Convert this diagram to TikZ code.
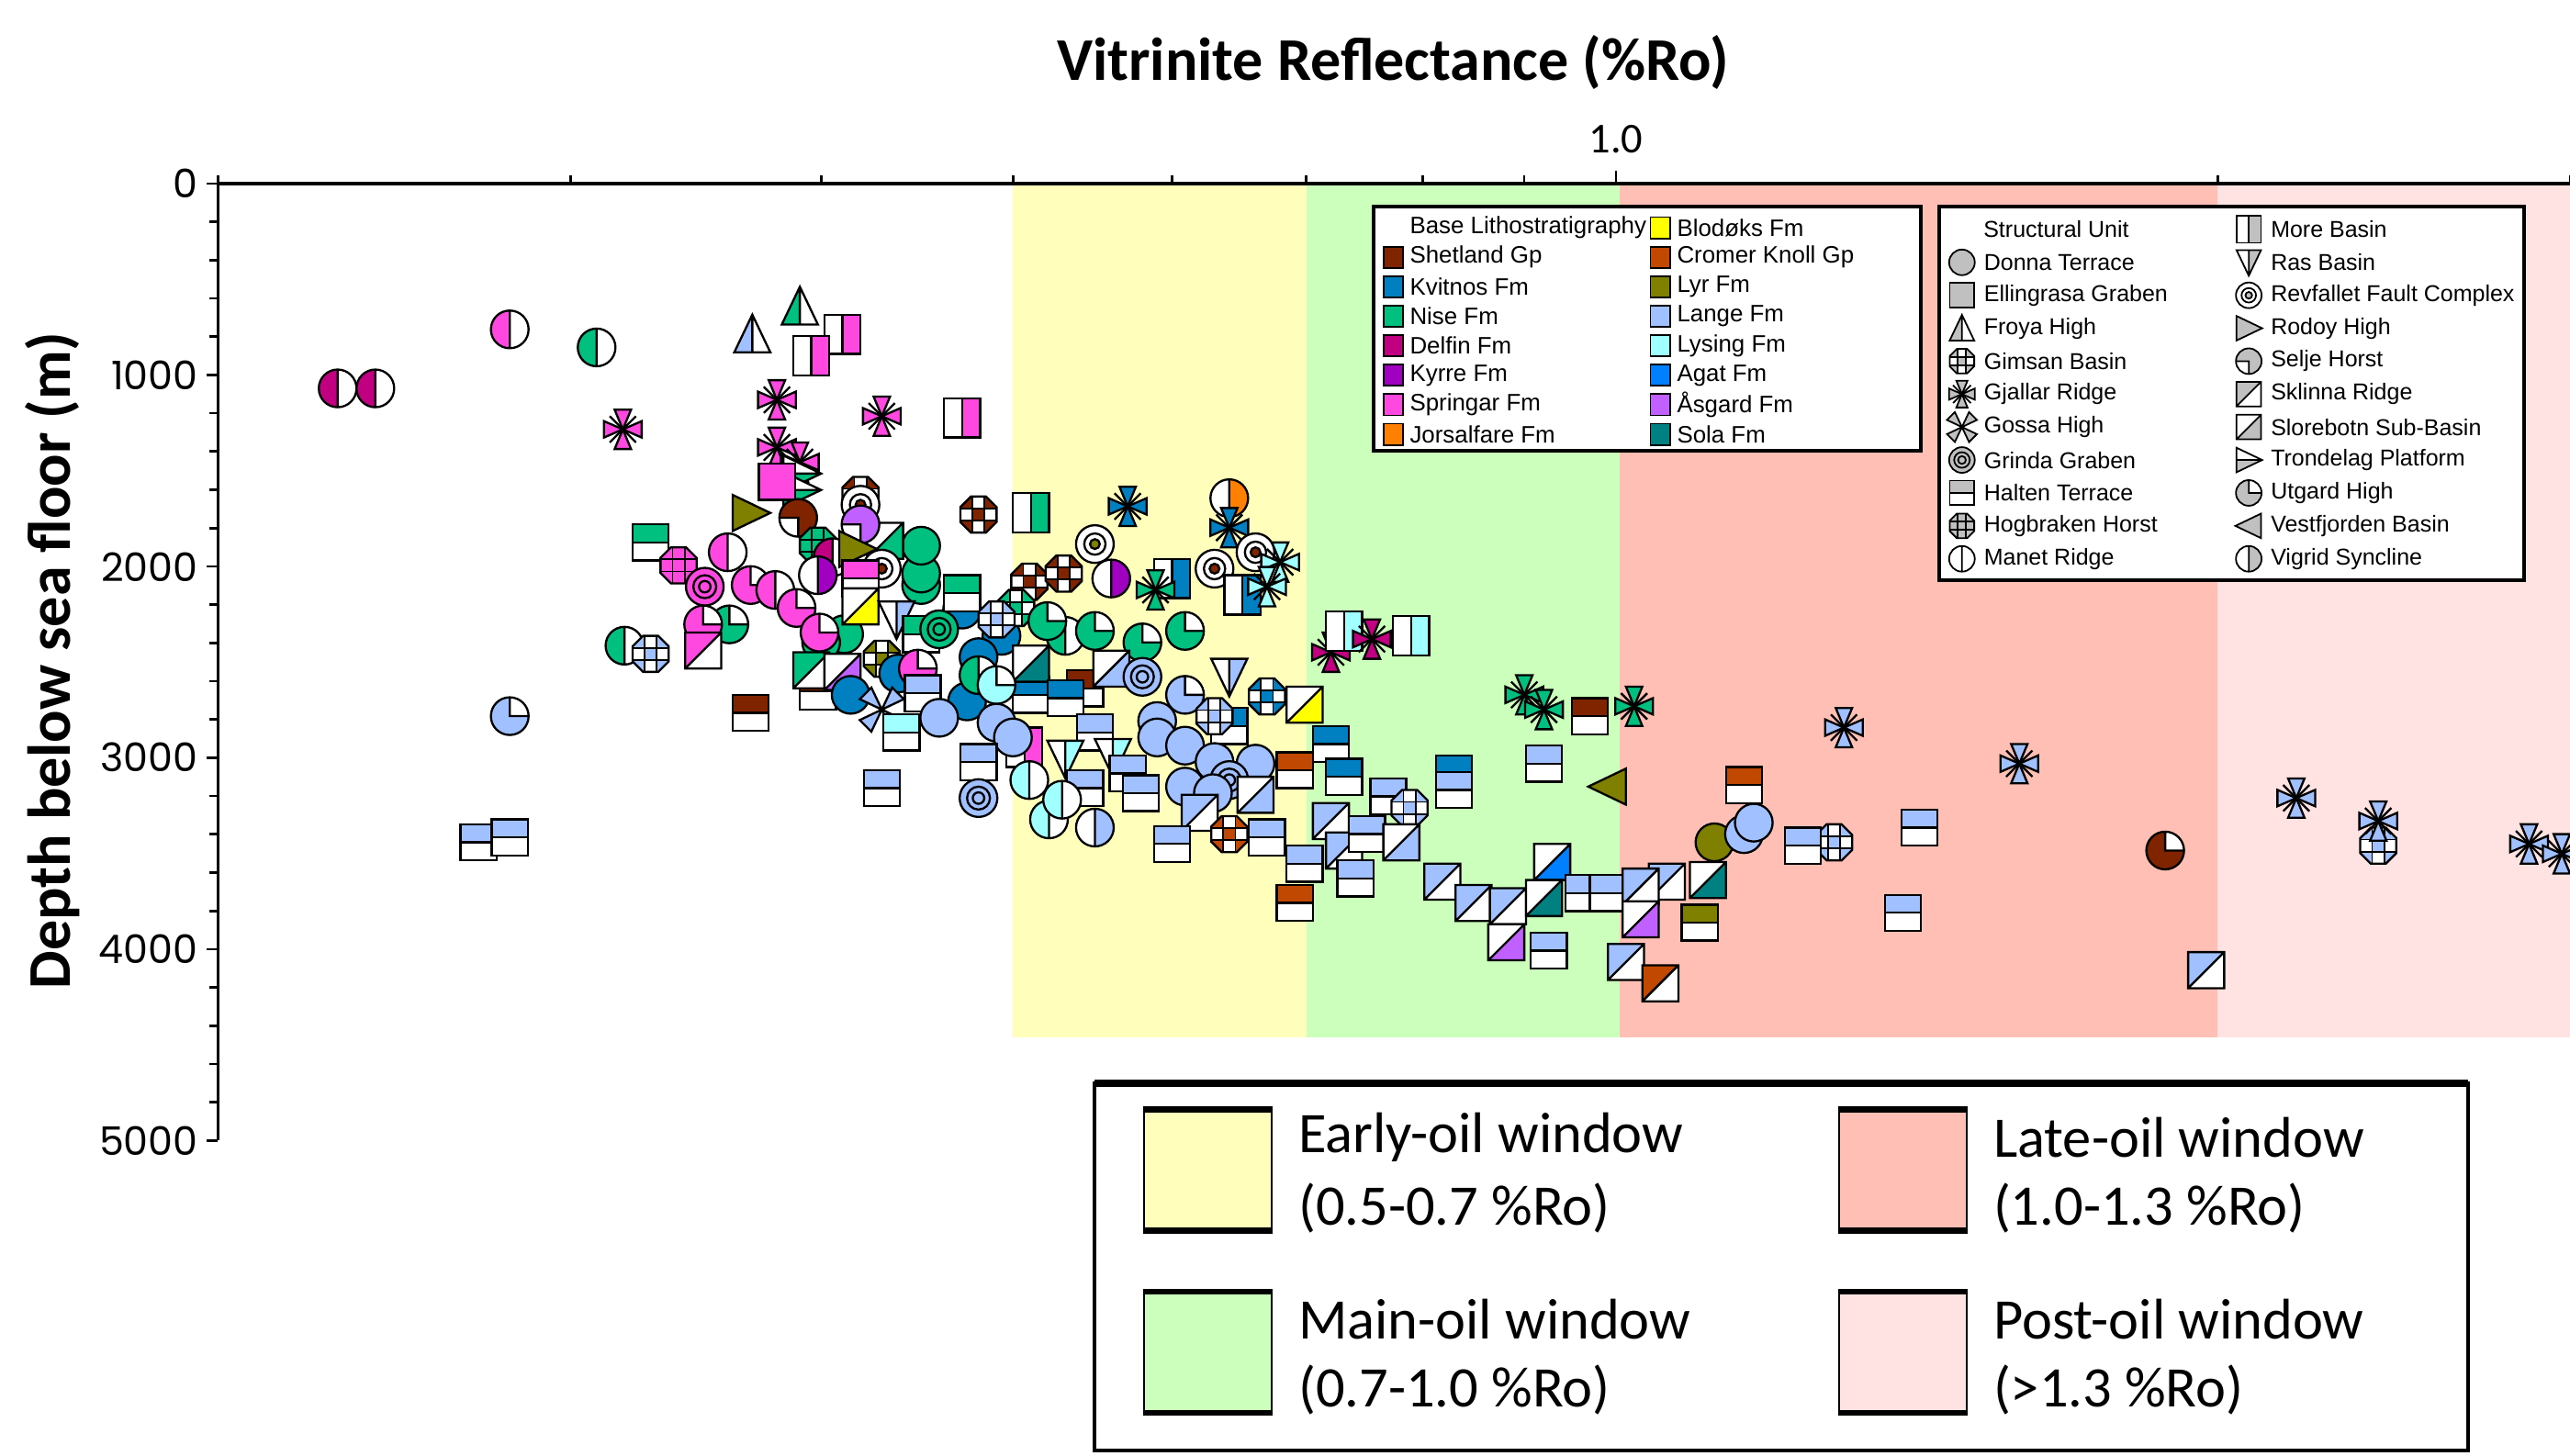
\documentclass[tikz,border=0pt]{standalone}
\usepackage{fontspec}
\setmainfont{Liberation Sans}
\newfontfamily\calib{Carlito}
\newfontfamily\popf{Poppins}
\definecolor{bYel}{HTML}{FFFFBB}
\definecolor{bGrn}{HTML}{CCFFBB}
\definecolor{bSal}{HTML}{FFBFB4}
\definecolor{bPnk}{HTML}{FFE2E2}
\definecolor{shet}{HTML}{802400}
\definecolor{kvit}{HTML}{0080C0}
\definecolor{nise}{HTML}{00C080}
\definecolor{delf}{HTML}{C00080}
\definecolor{kyrr}{HTML}{A000C0}
\definecolor{spri}{HTML}{FF48E0}
\definecolor{jors}{HTML}{FF8000}
\definecolor{blod}{HTML}{FFFF00}
\definecolor{crom}{HTML}{C04800}
\definecolor{lyr}{HTML}{808000}
\definecolor{lang}{HTML}{A0C0FF}
\definecolor{lysi}{HTML}{A0FFFF}
\definecolor{agat}{HTML}{0080FF}
\definecolor{asga}{HTML}{C060FF}
\definecolor{sola}{HTML}{008080}
\definecolor{lgray}{HTML}{C0C0C0}
\tikzset{
 pics/donna/.style={code={\filldraw[fill=#1] (0,0) circle[radius=11.5];}},
 pics/ellin/.style={code={\filldraw[fill=#1] (-11,-11) rectangle (11,11);}},
 pics/froya/.style={code={\fill[#1] (-11,11)--(0,-12)--(0,11)--cycle; \fill[white] (0,-12)--(11,11)--(0,11)--cycle; \draw (-11,11)--(0,-12)--(11,11)--cycle (0,-12)--(0,11);}},
 pics/gimsan/.style={code={
   \fill[#1] (-4.6,-11)--(4.6,-11)--(11,-4.6)--(11,4.6)--(4.6,11)--(-4.6,11)--(-11,4.6)--(-11,-4.6)--cycle;
   \fill[white] (-3.7,-11) rectangle (3.7,-3.7) (-3.7,3.7) rectangle (3.7,11) (-11,-3.7) rectangle (-3.7,3.7) (3.7,-3.7) rectangle (11,3.7);
   \begin{scope}\clip (-4.6,-11)--(4.6,-11)--(11,-4.6)--(11,4.6)--(4.6,11)--(-4.6,11)--(-11,4.6)--(-11,-4.6)--cycle;
   \draw[line width=1pt] (-3.7,-11)--(-3.7,11) (3.7,-11)--(3.7,11) (-11,-3.7)--(11,-3.7) (-11,3.7)--(11,3.7);\end{scope}
   \draw (-4.6,-11)--(4.6,-11)--(11,-4.6)--(11,4.6)--(4.6,11)--(-4.6,11)--(-11,4.6)--(-11,-4.6)--cycle;}},
 pics/hogbraken/.style={code={
   \fill[#1] (-4.6,-11)--(4.6,-11)--(11,-4.6)--(11,4.6)--(4.6,11)--(-4.6,11)--(-11,4.6)--(-11,-4.6)--cycle;
   \begin{scope}\clip (-4.6,-11)--(4.6,-11)--(11,-4.6)--(11,4.6)--(4.6,11)--(-4.6,11)--(-11,4.6)--(-11,-4.6)--cycle;
   \draw[line width=1pt] (-3.7,-11)--(-3.7,11) (3.7,-11)--(3.7,11) (-11,-3.7)--(11,-3.7) (-11,3.7)--(11,3.7);\end{scope}
   \draw (-4.6,-11)--(4.6,-11)--(11,-4.6)--(11,4.6)--(4.6,11)--(-4.6,11)--(-11,4.6)--(-11,-4.6)--cycle;}},
 pics/gjallar/.style={code={\filldraw[fill=#1] (-5,-12)--(5,-12)--(0,0)--cycle (-5,12)--(5,12)--(0,0)--cycle (-11.5,-5)--(-11.5,5)--(0,0)--cycle (11.5,-5)--(11.5,5)--(0,0)--cycle; \draw (-8,-8)--(8,8) (-8,8)--(8,-8);}},
 pics/gossa/.style={code={\begin{scope}[rotate=45]\filldraw[fill=#1] (-5,-14)--(5,-14)--(0,0)--cycle (-5,14)--(5,14)--(0,0)--cycle (-14,-5)--(-14,5)--(0,0)--cycle (14,-5)--(14,5)--(0,0)--cycle;\end{scope}}},
 pics/grinda/.style={code={\filldraw[fill=#1] (0,0) circle[radius=11.5]; \draw (0,0) circle[radius=7] (0,0) circle[radius=3.5];}},
 pics/halten/.style={code={\fill[#1] (-11,-11) rectangle (11,0); \fill[white] (-11,0) rectangle (11,11); \draw (-11,-11) rectangle (11,11) (-11,0)--(11,0);}},
 pics/manet/.style={code={\fill[white] (0,0) circle[radius=11.5]; \begin{scope}\clip (0,0) circle[radius=11.5]; \fill[#1] (-12,-12) rectangle (0,12);\end{scope} \draw (0,0) circle[radius=11.5] (0,-11.5)--(0,11.5);}},
 pics/vigrid/.style={code={\fill[white] (0,0) circle[radius=11.5]; \begin{scope}\clip (0,0) circle[radius=11.5]; \fill[#1] (0,-12) rectangle (12,12);\end{scope} \draw (0,0) circle[radius=11.5] (0,-11.5)--(0,11.5);}},
 pics/more/.style={code={\fill[white] (-11,-12) rectangle (0,12); \fill[#1] (0,-12) rectangle (11,12); \draw (-11,-12) rectangle (11,12) (0,-12)--(0,12);}},
 pics/ras/.style={code={\fill[white] (-11,-11)--(0,-11)--(0,12)--cycle; \fill[#1] (0,-11)--(11,-11)--(0,12)--cycle; \draw (-11,-11)--(11,-11)--(0,12)--cycle (0,-11)--(0,12);}},
 pics/revfallet/.style={code={\filldraw[fill=white] (0,0) circle[radius=11.5]; \draw (0,0) circle[radius=6.5]; \filldraw[fill=#1] (0,0) circle[radius=3];}},
 pics/rodoy/.style={code={\filldraw[fill=#1] (-11,-11)--(12,0)--(-11,11)--cycle;}},
 pics/selje/.style={code={\fill[#1] (0,0) circle[radius=11.5]; \begin{scope}\clip (0,0) circle[radius=11.5]; \fill[white] (-12,0) rectangle (0,12);\end{scope} \draw (0,0) circle[radius=11.5] (-11.5,0)--(0,0)--(0,11.5);}},
 pics/utgard/.style={code={\fill[#1] (0,0) circle[radius=11.5]; \begin{scope}\clip (0,0) circle[radius=11.5]; \fill[white] (0,-12) rectangle (12,0);\end{scope} \draw (0,0) circle[radius=11.5] (11.5,0)--(0,0)--(0,-11.5);}},
 pics/sklinna/.style={code={\fill[#1] (-11,-11)--(11,-11)--(-11,11)--cycle; \fill[white] (11,-11)--(11,11)--(-11,11)--cycle; \draw (-11,-11) rectangle (11,11) (-11,11)--(11,-11);}},
 pics/slorebotn/.style={code={\fill[white] (-11,-11)--(11,-11)--(-11,11)--cycle; \fill[#1] (11,-11)--(11,11)--(-11,11)--cycle; \draw (-11,-11) rectangle (11,11) (-11,11)--(11,-11);}},
 pics/trond/.style={code={\fill[white] (-11,-11)--(12,0)--(-11,0)--cycle; \fill[#1] (-11,0)--(12,0)--(-11,11)--cycle; \draw (-11,-11)--(12,0)--(-11,11)--cycle (-11,0)--(12,0);}},
 pics/vestf/.style={code={\filldraw[fill=#1] (11,-11)--(-12,0)--(11,11)--cycle;}},
 legtxt/.style={anchor=west, inner sep=0pt, font=\fontsize{14.5}{16}\selectfont},
 legtxtb/.style={anchor=west, inner sep=0pt, font=\fontsize{14}{16}\selectfont},
 ticklab/.style={anchor=east, inner sep=0pt, font=\popf\fontsize{24}{26}\selectfont},
 bigtxt/.style={anchor=west, inner sep=0pt, font=\calib\fontsize{35}{38}\selectfont},
}
\newcommand\mkr[4]{\pic at (#3,#4) {#1=#2};}
\begin{document}
\begin{tikzpicture}[x=1pt,y=-1pt]
\useasboundingbox (0,0) rectangle (1568,888);
\fill[white] (0,0) rectangle (1568,888);
% bands
\fill[bYel] (618,113) rectangle (797,633);
\fill[bGrn] (797,113) rectangle (988,633);
\fill[bSal] (988,113) rectangle (1353,633);
\fill[bPnk] (1353,113) rectangle (1568,633);
% axes
\draw[line width=1.8pt] (133,112) -- (1568,112);
\draw[line width=1.8pt] (133,112) -- (133,696);
\foreach \x in {133,348,501,618,715,797,868,930,1353,1568} \draw[line width=1.5pt] (\x,112) -- (\x,107);
\draw[line width=1.5pt] (986,112) -- (986,104);
\foreach \i in {0,...,25} \draw[line width=1.5pt] (133,112+\i*23.36) -- (128,112+\i*23.36);
\foreach \i in {0,...,5} \draw[line width=1.5pt] (133,112+\i*116.8) -- (126,112+\i*116.8);
\node[ticklab] (t0) at (121,112) {0};
\node[ticklab] (t1) at (121,229) {1000};
\node[ticklab] (t2) at (121,346) {2000};
\node[ticklab] (t3) at (121,462) {3000};
\node[ticklab] (t4) at (121,579) {4000};
\node[ticklab] (t5) at (121,696) {5000};
\node[font=\calib\fontsize{26}{28}\selectfont, inner sep=0pt] (x1) at (986,85) {1.0};
\node[font=\calib\bfseries\fontsize{37}{40}\selectfont, inner sep=0pt] (title) at (850,38) {Vitrinite Reflectance (\%Ro)};
\node[font=\calib\bfseries\fontsize{37}{40}\selectfont, inner sep=0pt, rotate=90] (ylab) at (32,403) {Depth below sea floor (m)};
% markers
\begin{scope}[line width=1.3pt, line join=miter]
\mkr{manet}{delf}{206}{237}
\mkr{manet}{delf}{229}{237}
\mkr{manet}{spri}{311}{201}
\mkr{manet}{nise}{364}{212}
\mkr{gjallar}{spri}{380}{262}
\mkr{utgard}{lang}{311}{437}
\mkr{halten}{lang}{292}{514}
\mkr{halten}{lang}{311}{511}
\mkr{froya}{lang}{459}{204}
\mkr{froya}{nise}{488}{187}
\mkr{more}{spri}{514}{204}
\mkr{more}{spri}{495}{217}
\mkr{gjallar}{spri}{474}{244}
\mkr{gjallar}{spri}{538}{254}
\mkr{more}{spri}{587}{255}
\mkr{gjallar}{spri}{474}{273}
\mkr{gjallar}{spri}{488}{282}
\mkr{trond}{nise}{489}{289}
\mkr{trond}{nise}{489}{299}
\mkr{ellin}{spri}{474}{294}
\mkr{rodoy}{lyr}{458}{313}
\mkr{gimsan}{shet}{525}{302}
\mkr{revfallet}{shet}{525}{308}
\mkr{selje}{shet}{487}{316}
\mkr{halten}{nise}{397}{331}
\mkr{hogbraken}{spri}{414}{345}
\mkr{manet}{spri}{444}{337}
\mkr{grinda}{spri}{430}{358}
\mkr{utgard}{spri}{458}{357}
\mkr{manet}{spri}{473}{360}
\mkr{hogbraken}{nise}{499}{333}
\mkr{manet}{delf}{508}{340}
\mkr{donna}{nise}{562}{357}
\mkr{donna}{nise}{562}{350}
\mkr{donna}{nise}{562}{333}
\mkr{slorebotn}{nise}{540}{330}
\mkr{selje}{asga}{525}{320}
\mkr{rodoy}{lyr}{523}{335}
\mkr{revfallet}{shet}{538}{347}
\mkr{vigrid}{kyrr}{499}{351}
\mkr{donna}{nise}{515}{387}
\mkr{donna}{nise}{501}{392}
\mkr{utgard}{spri}{486}{371}
\mkr{utgard}{spri}{500}{386}
\mkr{halten}{spri}{525}{353}
\mkr{slorebotn}{blod}{525}{370}
\mkr{utgard}{nise}{445}{381}
\mkr{utgard}{spri}{429}{381}
\mkr{manet}{nise}{381}{394}
\mkr{gimsan}{lang}{397}{399}
\mkr{sklinna}{spri}{429}{397}
\mkr{halten}{shet}{458}{435}
\mkr{halten}{shet}{499}{422}
\mkr{sklinna}{nise}{495}{409}
\mkr{slorebotn}{asga}{514}{410}
\mkr{donna}{kvit}{519}{424}
\mkr{gimsan}{lyr}{538}{402}
\mkr{ras}{lang}{547}{378}
\mkr{donna}{kvit}{587}{372}
\mkr{halten}{nise}{562}{387}
\mkr{halten}{nise}{587}{362}
\mkr{grinda}{nise}{573}{384}
\mkr{donna}{kvit}{548}{411}
\mkr{utgard}{spri}{560}{408}
\mkr{gossa}{lang}{538}{433}
\mkr{donna}{kvit}{590}{428}
\mkr{halten}{lang}{563}{423}
\mkr{donna}{lang}{573}{438}
\mkr{halten}{lysi}{550}{447}
\mkr{halten}{lang}{538}{481}
\mkr{gimsan}{shet}{597}{314}
\mkr{more}{nise}{629}{313}
\mkr{gjallar}{kvit}{688}{309}
\mkr{revfallet}{lyr}{668}{332}
\mkr{vigrid}{jors}{750}{304}
\mkr{gjallar}{kvit}{750}{322}
\mkr{revfallet}{shet}{741}{347}
\mkr{revfallet}{shet}{766}{337}
\mkr{gjallar}{lysi}{781}{343}
\mkr{more}{kvit}{715}{353}
\mkr{more}{kvit}{758}{363}
\mkr{gjallar}{lysi}{773}{358}
\mkr{gimsan}{shet}{628}{355}
\mkr{gimsan}{shet}{649}{350}
\mkr{vigrid}{kyrr}{678}{353}
\mkr{gjallar}{nise}{705}{360}
\mkr{donna}{kvit}{611}{388}
\mkr{gimsan}{nise}{620}{371}
\mkr{gimsan}{lang}{608}{378}
\mkr{manet}{nise}{650}{388}
\mkr{utgard}{nise}{639}{379}
\mkr{utgard}{nise}{668}{385}
\mkr{utgard}{nise}{697}{392}
\mkr{utgard}{nise}{723}{385}
\mkr{donna}{kvit}{597}{401}
\mkr{halten}{shet}{662}{420}
\mkr{halten}{kvit}{629}{424}
\mkr{slorebotn}{sola}{629}{405}
\mkr{manet}{nise}{597}{412}
\mkr{utgard}{lysi}{608}{418}
\mkr{halten}{kvit}{650}{426}
\mkr{slorebotn}{lang}{678}{408}
\mkr{grinda}{lang}{697}{413}
\mkr{ras}{lang}{750}{413}
\mkr{utgard}{lang}{723}{424}
\mkr{gimsan}{kvit}{773}{425}
\mkr{slorebotn}{blod}{796}{430}
\mkr{halten}{kvit}{750}{443}
\mkr{gimsan}{lang}{741}{437}
\mkr{more}{spri}{625}{456}
\mkr{donna}{lang}{608}{441}
\mkr{donna}{lang}{618}{450}
\mkr{halten}{lang}{668}{447}
\mkr{ras}{lysi}{650}{463}
\mkr{ras}{lysi}{679}{462}
\mkr{halten}{lang}{597}{465}
\mkr{grinda}{lang}{597}{487}
\mkr{halten}{lang}{662}{481}
\mkr{halten}{lang}{688}{472}
\mkr{halten}{lang}{696}{484}
\mkr{manet}{lysi}{628}{476}
\mkr{manet}{lysi}{640}{500}
\mkr{manet}{lysi}{648}{488}
\mkr{vigrid}{lang}{668}{505}
\mkr{donna}{lang}{706}{440}
\mkr{donna}{lang}{706}{450}
\mkr{donna}{lang}{723}{455}
\mkr{donna}{lang}{741}{465}
\mkr{donna}{lang}{766}{466}
\mkr{grinda}{lang}{750}{476}
\mkr{donna}{lang}{723}{480}
\mkr{donna}{lang}{740}{484}
\mkr{halten}{crom}{790}{470}
\mkr{halten}{kvit}{812}{454}
\mkr{halten}{kvit}{820}{474}
\mkr{slorebotn}{lang}{766}{485}
\mkr{sklinna}{lang}{732}{496}
\mkr{gimsan}{crom}{750}{509}
\mkr{halten}{lang}{715}{515}
\mkr{halten}{lang}{773}{511}
\mkr{sklinna}{lang}{812}{501}
\mkr{halten}{lang}{796}{527}
\mkr{sklinna}{lang}{820}{519}
\mkr{halten}{lang}{827}{536}
\mkr{halten}{crom}{790}{551}
\mkr{gjallar}{delf}{812}{398}
\mkr{more}{lysi}{820}{385}
\mkr{gjallar}{delf}{837}{390}
\mkr{more}{lysi}{861}{388}
\mkr{halten}{lang}{847}{486}
\mkr{halten}{kvit}{887}{472}
\mkr{halten}{lang}{887}{482}
\mkr{gimsan}{lang}{860}{493}
\mkr{halten}{lang}{834}{509}
\mkr{slorebotn}{lang}{855}{514}
\mkr{sklinna}{lang}{880}{538}
\mkr{sklinna}{lang}{899}{551}
\mkr{sklinna}{lang}{920}{553}
\mkr{slorebotn}{agat}{947}{526}
\mkr{slorebotn}{sola}{942}{548}
\mkr{halten}{lang}{966}{545}
\mkr{halten}{lang}{981}{545}
\mkr{slorebotn}{asga}{919}{575}
\mkr{halten}{lang}{945}{580}
\mkr{gjallar}{nise}{930}{424}
\mkr{gjallar}{nise}{942}{433}
\mkr{halten}{lang}{942}{466}
\mkr{halten}{shet}{970}{437}
\mkr{gjallar}{nise}{997}{431}
\mkr{vestf}{lyr}{981}{480}
\mkr{sklinna}{lang}{1017}{538}
\mkr{sklinna}{lang}{1001}{541}
\mkr{slorebotn}{sola}{1042}{537}
\mkr{slorebotn}{asga}{1001}{561}
\mkr{halten}{lyr}{1037}{563}
\mkr{sklinna}{lang}{992}{587}
\mkr{sklinna}{crom}{1013}{600}
\mkr{halten}{crom}{1064}{479}
\mkr{donna}{lyr}{1046}{514}
\mkr{donna}{lang}{1064}{509}
\mkr{donna}{lang}{1070}{502}
\mkr{gimsan}{lang}{1119}{514}
\mkr{halten}{lang}{1100}{516}
\mkr{halten}{lang}{1171}{505}
\mkr{halten}{lang}{1161}{557}
\mkr{gjallar}{lang}{1125}{444}
\mkr{gjallar}{lang}{1232}{466}
\mkr{utgard}{shet}{1321}{519}
\mkr{sklinna}{lang}{1346}{592}
\mkr{gjallar}{lang}{1401}{487}
\mkr{gimsan}{lang}{1451}{516}
\mkr{gjallar}{lang}{1451}{501}
\mkr{gjallar}{lang}{1543}{515}
\mkr{gjallar}{lang}{1563}{521}
\end{scope}
% legend 1
\draw[line width=2.2pt, fill=white] (838,126) rectangle (1172,275);
\node[legtxt] (l0) at (860,139) {Base Lithostratigraphy};
\foreach \c/\t [count=\i] in {shet/Shetland Gp,kvit/Kvitnos Fm,nise/Nise Fm,delf/Delfin Fm,kyrr/Kyrre Fm,spri/Springar Fm,jors/Jorsalfare Fm}{
  \filldraw[fill=\c, line width=1pt] (844,139+18*\i-6.5) rectangle (856,139+18*\i+6.5);
  \node[legtxt] (la\i) at (860,139+18*\i) {\t};}
\foreach \c/\t [count=\i from 0] in {blod/Blodøks Fm,crom/Cromer Knoll Gp,lyr/Lyr Fm,lang/Lange Fm,lysi/Lysing Fm,agat/Agat Fm,asga/Åsgard Fm,sola/Sola Fm}{
  \filldraw[fill=\c, line width=1pt] (1007,139+18*\i-6.5) rectangle (1019,139+18*\i+6.5);
  \node[legtxt] (lb\i) at (1023,139+18*\i) {\t};}
% legend 2
\draw[line width=2.2pt, fill=white] (1183,126) rectangle (1540,354);
\node[legtxtb] (s0) at (1210,140) {Structural Unit};
\begin{scope}[line width=1pt, line join=miter]
\foreach \p/\t [count=\i] in {donna/Donna Terrace,ellin/Ellingrasa Graben,froya/Froya High,gimsan/Gimsan Basin,gjallar/Gjallar Ridge,gossa/Gossa High,grinda/Grinda Graben,halten/Halten Terrace,hogbraken/Hogbraken Horst}{
  \pic[scale=0.68] at (1197,140+20.1*\i) {\p=lgray};
  \node[legtxtb] (sa\i) at (1210,140+20.1*\i) {\t};}
\pic[scale=0.68] at (1197,341) {vigrid=white};
\node[legtxtb] (sa10) at (1210,341) {Manet Ridge};
\foreach \p/\t [count=\i from 0] in {more/More Basin,ras/Ras Basin,revfallet/Revfallet Fault Complex,rodoy/Rodoy High,selje/Selje Horst,sklinna/Sklinna Ridge,slorebotn/Slorebotn Sub-Basin,trond/Trondelag Platform,utgard/Utgard High,vestf/Vestfjorden Basin,vigrid/Vigrid Syncline}{
  \pic[scale=0.68] at (1372,140+20.1*\i) {\p=lgray};
  \node[legtxtb] (sb\i) at (1385,140+20.1*\i) {\t};}
\end{scope}
% bottom legend
\draw[line width=2.2pt, fill=white] (668,661) rectangle (1506,885);
\draw[line width=4pt] (668,661) -- (1506,661);
\foreach \c/\x/\y/\n in {bYel/698/677/a,bGrn/698/788/b,bSal/1122/677/c,bPnk/1122/788/d}{
  \filldraw[fill=\c, line width=1.3pt] (\x,\y) rectangle (\x+78,\y+74);
  \draw[line width=3.5pt] (\x-0.6,\y) -- (\x+78.6,\y) (\x-0.6,\y+74) -- (\x+78.6,\y+74);}
\node[bigtxt] (e1) at (792,694) {Early-oil window};
\node[bigtxt] (e2) at (792,737) {(0.5-0.7 \%Ro)};
\node[bigtxt] (m1) at (792,805) {Main-oil window};
\node[bigtxt] (m2) at (792,848) {(0.7-1.0 \%Ro)};
\node[bigtxt] (a1) at (1216,694) {Late-oil window};
\node[bigtxt] (a2) at (1216,737) {(1.0-1.3 \%Ro)};
\node[bigtxt] (p1) at (1216,805) {Post-oil window};
\node[bigtxt] (p2) at (1216,848) {(>1.3 \%Ro)};
\end{tikzpicture}
\end{document}
